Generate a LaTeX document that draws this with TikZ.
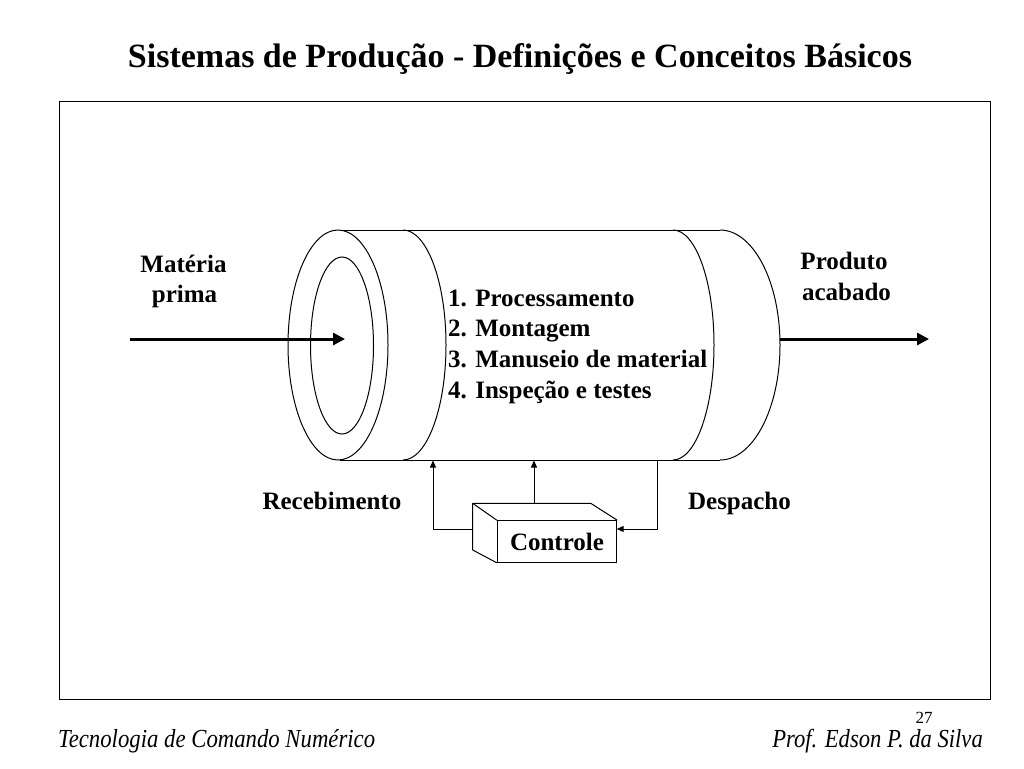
\documentclass[tikz,border=0pt]{standalone}
\usepackage{fontspec}
\setmainfont{Liberation Serif}
\usetikzlibrary{arrows.meta}
\begin{document}
\begin{tikzpicture}[x=1pt,y=-1pt,
  line/.style={line width=1pt},
  lbl/.style={font=\fontsize{25}{30}\selectfont\bfseries, anchor=base, inner sep=0pt},
  item/.style={font=\fontsize{25}{30}\selectfont\bfseries, anchor=base west, inner sep=0pt},
  foot/.style={font=\fontsize{26}{30}\selectfont\itshape, inner sep=0pt},
  thickarrow/.style={line width=3pt, -{Triangle[length=12pt,width=12pt]}},
  smallarrow/.style={line width=1pt, -{Triangle[length=7pt,width=6pt]}},
]
\useasboundingbox (0,0) rectangle (1024,768);
% title
\node[anchor=base, inner sep=0pt, font=\fontsize{34}{38}\selectfont\bfseries] (title) at (520,67.5)
  {Sistemas de Produção - Definições e Conceitos Básicos};
% frame
\draw[line] (59,101) rectangle (990,699);
% cylinder
\draw[line] (340,230) -- (720,230);
\draw[line] (340,460) -- (720,460);
\draw[line] (338,345) ellipse [x radius=50, y radius=115];
\draw[line] (342,345.5) ellipse [x radius=31.5, y radius=88.5];
\draw[line] (403,230) arc[start angle=-90, end angle=90, x radius=43, y radius=115];
\draw[line] (673,230) arc[start angle=-90, end angle=90, x radius=41, y radius=115];
\draw[line] (720,230) arc[start angle=-90, end angle=90, x radius=60, y radius=115];
% items
\node[item] (l1) at (448,306) {1. Processamento};
\node[item] (l2) at (448,336.7) {2. Montagem};
\node[item] (l3) at (448,367.3) {3. Manuseio de material};
\node[item] (l4) at (448,398.3) {4. Inspeção e testes};
% input / output
\coordinate (inA) at (130,339);
\coordinate (inB) at (345,339);
\coordinate (outA) at (780,339);
\coordinate (outB) at (929,339);
\draw[thickarrow] (inA) -- (inB);
\draw[thickarrow] (outA) -- (outB);
\node[lbl] (mp1) at (183.5,272.3) {Matéria};
\node[lbl] (mp2) at (184.5,302.3) {prima};
\node[lbl] (pa1) at (844,269.5) {Produto};
\node[lbl] (pa2) at (846.5,300) {acabado};
\node[lbl] (rec) at (332,509.3) {Recebimento};
\node[lbl] (desp) at (739.5,509.3) {Despacho};
% control box
\node[line, draw, minimum width=119.4pt, minimum height=41.6pt, inner sep=0pt,
  font=\fontsize{25}{30}\selectfont\bfseries] (ctrl) at (557,541.5) {Controle};
\coordinate (bA) at (472.7,503.3);
\coordinate (bB) at (590.7,503.3);
\coordinate (bG) at (472.7,550);
\draw[line, line join=round] (ctrl.north west) -- (bA) -- (bB) -- (ctrl.north east);
\draw[line, line join=round] (bA) -- (bG) -- (ctrl.south west);
% connectors
\coordinate (cb1) at (433,460.5);
\coordinate (cb2) at (534,460.5);
\coordinate (cb3) at (657.7,460.5);
\coordinate (cl) at (472.7,529);
\coordinate (cm) at (534,503.3);
\coordinate (cr) at (616.7,529);
\draw[smallarrow] (cl) -| (cb1);
\draw[smallarrow] (cm) -- (cb2);
\draw[smallarrow] (cb3) |- (cr);
% footer
\node[foot, anchor=base west] (fl) at (58,747) {\scalebox{0.875}[1]{Tecnologia de Comando Numérico}};
\node[foot, anchor=base east] (fr) at (983,747) {\scalebox{0.87}[1]{Prof. Edson P. da Silva}};
\node[inner sep=0pt, anchor=base, font=\fontsize{17}{20}\selectfont] (pg) at (924,723) {27};
\end{tikzpicture}
\end{document}
